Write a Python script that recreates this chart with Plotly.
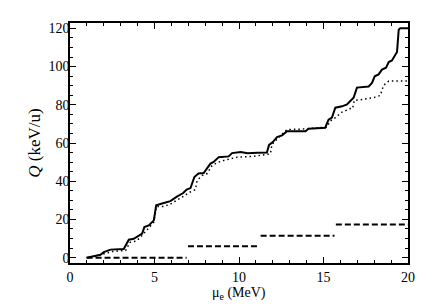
import plotly.graph_objects as go

# solid curve
mu_solid = [0.98, 1.8, 2.0, 2.4, 3.18, 3.48, 3.77, 4.07, 4.27, 4.4, 4.66, 4.96, 5.1, 5.55, 5.94,
            6.3, 6.7, 6.9, 7.13, 7.36, 7.6, 7.91, 8.31, 8.5, 8.8, 9.39, 9.59, 10.1, 10.5, 11.1,
            11.65, 11.78, 12.0, 12.25, 12.55, 12.84, 13.93, 14.12, 15.1, 15.3, 15.5, 15.7,
            16.1, 16.39, 16.59, 16.78, 16.98, 17.28, 17.67, 17.87, 18.03, 18.26, 18.46, 18.7,
            18.86, 19.05, 19.25, 19.35, 19.45, 19.54, 20.0]
q_solid = [0.0, 1.5, 2.9, 4.2, 4.5, 9.4, 9.9, 11.7, 12.6, 16.0, 16.9, 19.5, 27.4, 28.6, 29.6,
           31.8, 33.8, 35.6, 36.4, 42.2, 44.0, 44.3, 49.2, 50.1, 52.6, 53.0, 54.7, 55.3, 54.7, 54.9,
           55.0, 59.0, 60.5, 63.1, 64.0, 66.1, 66.1, 67.5, 68.0, 72.2, 73.3, 78.5,
           79.2, 80.2, 81.9, 83.7, 89.0, 89.3, 89.6, 91.4, 94.9, 95.9, 98.4, 99.4,
           102.4, 103.2, 105.9, 107.6, 119.3, 120.0, 120.0]

# dotted curve
mu_dot = [1.2, 2.0, 2.5, 3.3, 3.55, 3.9, 4.15, 4.56, 4.96, 5.12, 5.55, 5.94, 6.34, 6.73, 7.03,
          7.42, 7.52, 7.82, 8.11, 8.41, 8.8, 9.1, 9.89, 10.87, 11.86, 11.95, 12.3, 12.84, 13.73,
          15.2, 15.4, 15.7, 16.1, 16.59, 16.72, 16.82, 17.28, 18.07, 18.36, 18.56, 18.86, 20.0]
q_dot = [0.0, 1.8, 3.2, 3.8, 8.0, 8.6, 10.5, 14.6, 18.6, 26.8, 26.8, 28.0, 30.0, 32.2, 34.0,
         35.6, 40.4, 43.0, 44.0, 48.3, 50.0, 50.9, 52.6, 53.0, 54.4, 59.3, 62.5, 67.0, 67.3,
         68.3, 71.5, 73.3, 76.2, 78.0, 78.0, 82.3, 82.7, 84.0, 84.9, 90.2, 92.4, 92.4]

# dashed steps
step_edges = [0.98, 6.9, 11.2, 15.65, 20.0]
step_q = [0.0, 6.0, 11.5, 17.3]

x_dash, y_dash = [], []
for i, q in enumerate(step_q):
    x_dash += [step_edges[i] + (0.08 if i else 0), step_edges[i + 1], None]
    y_dash += [q, q, None]

fig = go.Figure()
fig.add_trace(go.Scatter(x=mu_dot, y=q_dot, mode="lines",
                         line=dict(color="black", width=1.5, dash="1.5px,3px")))
fig.add_trace(go.Scatter(x=mu_solid, y=q_solid, mode="lines",
                         line=dict(color="black", width=2)))
fig.add_trace(go.Scatter(x=x_dash, y=y_dash, mode="lines",
                         line=dict(color="black", width=2, dash="6px,3px")))

axis_common = dict(showgrid=False, zeroline=False, showline=True, linecolor="black",
                   linewidth=1.5, mirror="allticks", ticks="inside", tickcolor="black",
                   tickwidth=1.2, ticklen=6, automargin=False)
fig.update_xaxes(range=[0, 20], dtick=5,
                 minor=dict(dtick=1, ticks="inside", ticklen=3.5, tickcolor="black"),
                 **axis_common)
fig.update_yaxes(range=[-2.8, 122.8], dtick=20, ticklabelstandoff=-4,
                 minor=dict(dtick=5, ticks="inside", ticklen=3.5, tickcolor="black"),
                 title=dict(text="<i>Q</i> (keV/u)", standoff=4), **axis_common)

# x title as an annotation so it sits closer to the tick labels
fig.add_annotation(text="μ<sub>e</sub> (MeV)", xref="paper", yref="paper",
                   x=0.5, y=0, yshift=-30, yanchor="middle", showarrow=False)

# page body has an 8px margin, so the figure is a bit smaller than the window
fig.update_layout(
    width=421, height=299,
    margin=dict(l=61.5, r=21, t=15, b=44),
    plot_bgcolor="white", paper_bgcolor="white",
    showlegend=False,
    font=dict(family="Times New Roman, Liberation Serif, serif", size=14, color="black"),
)

fig.write_html("out.html")
